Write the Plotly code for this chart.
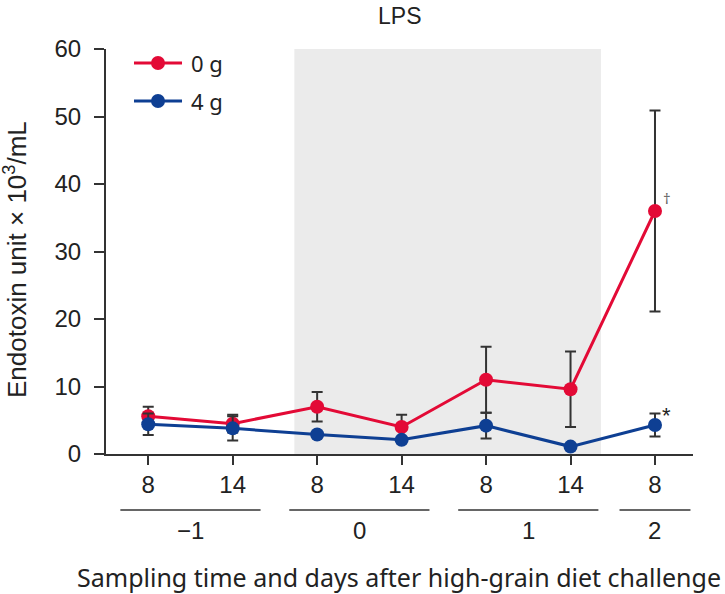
import plotly.graph_objects as go

# ---- data ----
hours = ["8", "14", "8", "14", "8", "14", "8"]
days = ["−1", "0", "1", "2"]
day_spans = [(0, 1), (2, 3), (4, 5), (6, 6)]
series_names = ["0 g", "4 g"]
g0_mean = [5.6, 4.5, 7.0, 4.0, 11.0, 9.6, 36.0]
g0_err = [1.4, 1.3, 2.2, 1.8, 4.9, 5.6, 14.9]
g4_mean = [4.4, 3.8, 2.9, 2.1, 4.2, 1.1, 4.3]
g4_err = [1.6, 1.8, 0.4, 0.4, 1.9, 0.4, 1.7]
shade_span = (1.73, 5.36)  # in category-index units
y_ticks = [0, 10, 20, 30, 40, 50, 60]

RED = "#E30A36"
BLUE = "#0E3F93"
ERR = "#333333"
AX = "#333333"
TXT = "#222222"
NUM_FONT = "Liberation Sans"
TXT_FONT = "Noto Sans"

xs = list(range(len(hours)))
colors = [RED, BLUE]

fig = go.Figure()

fig.add_shape(type="rect", xref="x", yref="y", x0=shade_span[0], x1=shade_span[1],
              y0=0, y1=60, fillcolor="#EBEBEB", line_width=0, layer="below")

for name, m, e, c in zip(series_names, [g0_mean, g4_mean], [g0_err, g4_err], colors):
    fig.add_trace(go.Scatter(
        x=xs, y=m, name=name, mode="lines+markers", showlegend=False,
        line=dict(color=c, width=3),
        marker=dict(color=c, size=14),
        error_y=dict(type="data", array=e, visible=True, color=ERR, thickness=2, width=5.5),
    ))

# custom legend (longer line segment than plotly's built-in legend)
leg_y = [0.9654, 0.8716]
for name, c, ly in zip(series_names, colors, leg_y):
    fig.add_shape(type="line", xref="paper", yref="paper", x0=0.0477, x1=0.1295,
                  y0=ly, y1=ly, line=dict(color=c, width=3))
    fig.add_shape(type="circle", xref="paper", yref="paper", xsizemode="pixel",
                  ysizemode="pixel", xanchor=0.0886, yanchor=ly, x0=-7, x1=7, y0=-7, y1=7,
                  fillcolor=c, line=dict(color=c, width=0))
    fig.add_annotation(x=0.1415, y=ly, xref="paper", yref="paper", text=name,
                       showarrow=False, xanchor="left", yanchor="middle",
                       font=dict(family=TXT_FONT, size=22, color=TXT))

# significance marks
fig.add_annotation(x=xs[-1], y=g0_mean[-1], xref="x", yref="y", text="†", showarrow=False,
                   xshift=12, yshift=13, font=dict(family=TXT_FONT, size=15, color="#666666"))
fig.add_annotation(x=xs[-1], y=g4_mean[-1], xref="x", yref="y", text="*", showarrow=False,
                   xshift=12, yshift=9, font=dict(family=NUM_FONT, size=22, color=TXT))

# day group lines and labels
for lab, (a, b) in zip(days, day_spans):
    pad = 0.33 if b > a else 0.42
    fig.add_shape(type="line", xref="x", yref="paper", x0=a - pad, x1=b + pad,
                  y0=-0.1383, y1=-0.1383, line=dict(color=AX, width=1.5))
    fig.add_annotation(x=(a + b) / 2, y=-0.188, xref="x", yref="paper", text=lab,
                       showarrow=False, yanchor="middle",
                       font=dict(family=NUM_FONT, size=24, color=TXT))

fig.add_annotation(x=0.499, y=-0.303, xref="paper", yref="paper",
                   text="Sampling time and days after high-grain diet challenge",
                   showarrow=False, xanchor="center", yanchor="middle",
                   font=dict(family=TXT_FONT, size=25, color=TXT))

# y axis title as rotated annotation
fig.add_annotation(x=-0.155, y=0.479, xref="paper", yref="paper",
                   text="Endotoxin unit × 10<sup>3</sup>/mL", textangle=-90,
                   showarrow=False, xanchor="center", yanchor="middle",
                   font=dict(family=NUM_FONT, size=26, color=TXT))

# chart title
fig.add_annotation(x=0.50, y=1.119, xref="paper", yref="paper", text="LPS",
                   showarrow=False, xanchor="center", yanchor="top",
                   font=dict(family=NUM_FONT, size=23, color=TXT))

fig.update_layout(
    width=725, height=594,
    margin=dict(l=106, r=32, t=49, b=140, autoexpand=False),
    paper_bgcolor="white", plot_bgcolor="white",
    showlegend=False,
    xaxis=dict(range=[-0.5, 6.45], tickmode="array", tickvals=xs, ticktext=hours,
               showline=True, linecolor=AX, linewidth=2, ticks="outside", ticklen=9,
               tickwidth=2, tickcolor=AX, showgrid=False, zeroline=False,
               ticklabelstandoff=-1,
               tickfont=dict(family=NUM_FONT, size=24, color=TXT)),
    yaxis=dict(range=[0, 60], tickmode="array", tickvals=y_ticks,
               showline=True, linecolor=AX, linewidth=2, ticks="outside", ticklen=10,
               tickwidth=2, tickcolor=AX, showgrid=False, zeroline=False,
               ticklabelstandoff=8,
               tickfont=dict(family=NUM_FONT, size=24, color=TXT)),
)

fig.write_html("out.html", config={"displayModeBar": False},
               post_script="document.body.style.margin='0';")
